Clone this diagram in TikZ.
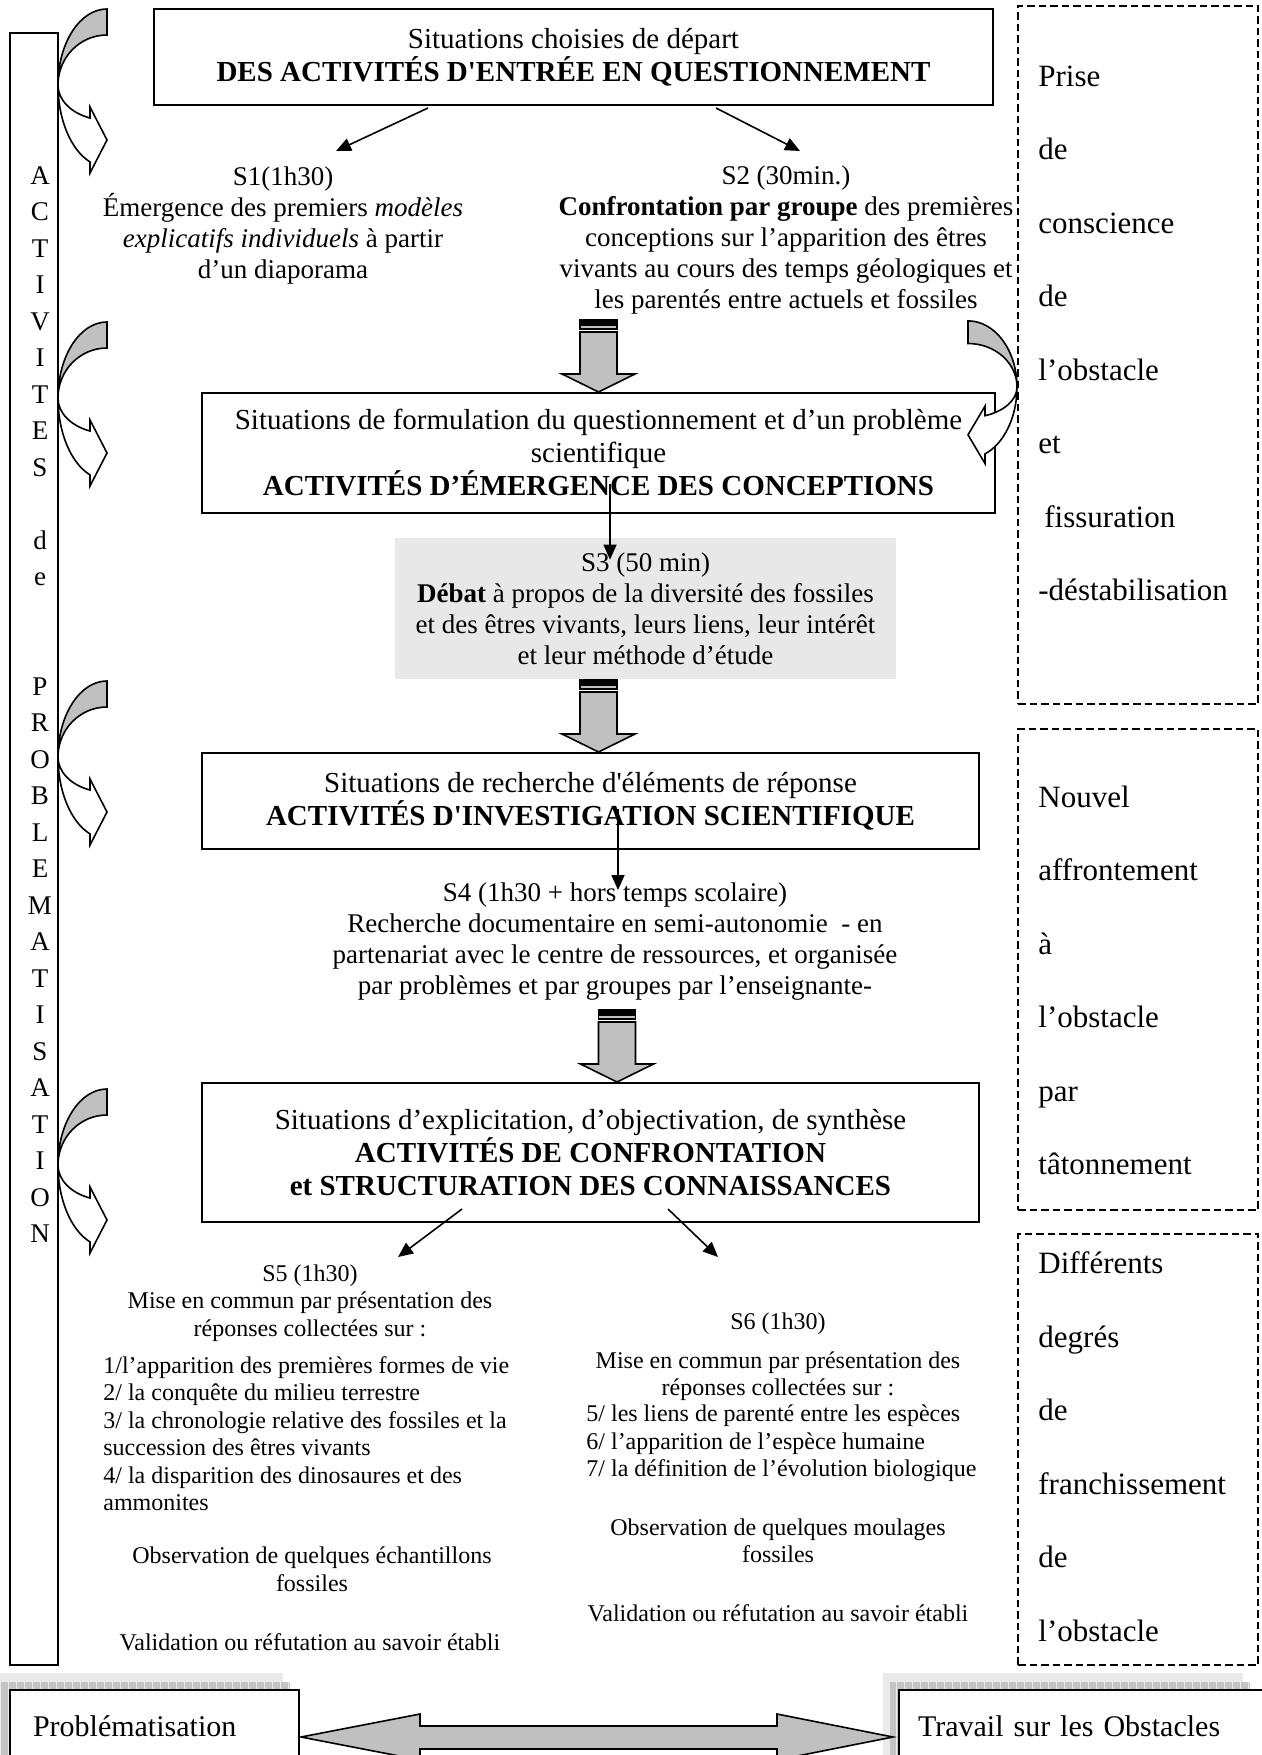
\documentclass[tikz,border=0pt]{standalone}
\usepackage{fontspec}
\setmainfont{Liberation Serif}
\usetikzlibrary{arrows.meta,calc}
\definecolor{ArrGray}{RGB}{192,192,192}
\definecolor{DebatGray}{RGB}{232,232,232}
\definecolor{ShadowGray}{RGB}{196,196,196}
\definecolor{ShadowLight}{RGB}{234,234,234}
\tikzset{
  pb/box/.style={draw, line width=1pt, fill=white, align=center, inner sep=0pt,
    font=\fontsize{14.5}{16.5}\selectfont},
  pb/side/.style={draw, line width=1pt, dash pattern=on 3.75pt off 2pt},
  pb/sidetxt/.style={align=left, anchor=west, inner sep=0pt,
    font=\fontsize{15.5}{36.75}\selectfont},
  pb/txt/.style={align=center, inner sep=0pt, font=\fontsize{13.5}{15.5}\selectfont},
  pb/small/.style={align=center, inner sep=0pt, font=\fontsize{12}{13.75}\selectfont},
  pb/letters/.style={align=center, inner sep=0pt, font=\fontsize{13.5}{18.25}\selectfont},
  pb/bottom/.style={draw, line width=1pt, fill=white, anchor=north west, align=left,
    inner ysep=0pt, minimum height=36pt, font=\fontsize{15}{17}\selectfont},
  pb/arrow/.style={-{Triangle[length=7.5pt,width=6.5pt]}, line width=0.8pt},
  pb/block/.style={fill=ArrGray, draw=black, line width=0.8pt},
  % curved arrow, centre of the arcs at the origin
  bendarrow/.pic={
    \filldraw[pb/block] (0,-76) arc[start angle=270, end angle=180, x radius=49, y radius=76]
      arc[start angle=180, end angle=270, x radius=49, y radius=50] -- cycle;
    \filldraw[fill=white, draw=black, line width=0.8pt] (-49,0)
      arc[start angle=180, end angle=110.3, x radius=49, y radius=82]
      -- (-17,88) -- (0,55) -- (-17,22) -- (-17,33)
      arc[start angle=110.3, end angle=180, x radius=49, y radius=35] -- cycle;
  },
  % striped block arrow, tip at the origin
  stripedarrow/.pic={
    \filldraw[fill=black, line width=0.6pt] (-18.5,-72) rectangle (18.5,-69);
    \filldraw[pb/block] (-18.5,-67) rectangle (18.5,-63);
    \filldraw[pb/block] (-18.5,-60) -- (-18.5,-18) -- (-36.5,-18) -- (0,0)
      -- (36.5,-18) -- (18.5,-18) -- (18.5,-60) -- cycle;
  }
}

\begin{document}
\begin{tikzpicture}[x=0.5pt,y=-0.5pt]
  \useasboundingbox (0,0) rectangle (1262,1755);
  \clip (0,0) rectangle (1262,1755);

  % left column
  \node[draw, line width=1pt, minimum width=24pt, minimum height=816pt] (bar) at (34,849) {};
  \node[pb/letters] (barlbl) at (40,704.5) {A\\C\\T\\I\\V\\I\\T\\E\\S\\\strut\\d\\e\\\strut\\\strut\\P\\R\\O\\B\\L\\E\\M\\A\\T\\I\\S\\A\\T\\I\\O\\N};
  \foreach \y in {85,398,757,1165}{\pic at (107,\y) {bendarrow};}

  % right column
  \node[pb/side, minimum width=120pt, minimum height=349pt] (obs1) at (1138,355) {};
  \node[pb/side, minimum width=120pt, minimum height=240.5pt] (obs2) at (1138,969.5) {};
  \node[pb/side, minimum width=120pt, minimum height=215.5pt] (obs3) at (1138,1449.5) {};
  \node[pb/sidetxt] (obs1txt) at (1038,333.5) {Prise\\de\\conscience\\de\\l’obstacle\\et\\\hspace{3pt}fissuration\\-déstabilisation};
  \node[pb/sidetxt] (obs2txt) at (1038,980.5) {Nouvel\\affrontement\\à\\l’obstacle\\par\\tâtonnement};
  \node[pb/sidetxt] (obs3txt) at (1038,1446.5) {Différents\\degrés\\de\\franchissement\\de\\l’obstacle};

  % main column
  \node[pb/box, minimum width=419.5pt, minimum height=48pt] (start) at (573.5,57) {Situations choisies de départ\\\textbf{DES ACTIVITÉS D\textquotesingle ENTRÉE EN QUESTIONNEMENT}};
  \node[pb/txt] (s1) at (283,225.5) {S1(1h30)\\Émergence des premiers \textit{modèles}\\\textit{explicatifs individuels} à partir\\d’un diaporama};
  \node[pb/txt] (s2) at (786,240.5) {S2 (30min.)\\\textbf{Confrontation par groupe} des premières\\conceptions sur l’apparition des êtres\\vivants au cours des temps géologiques et\\les parentés entre actuels et fossiles};
  \coordinate (s1in) at (336,151);
  \coordinate (s2in) at (800,151);
  \draw[pb/arrow] ($(start.south)+(-145.5,2)$) -- (s1in);
  \draw[pb/arrow] ($(start.south)+(142.5,2)$) -- (s2in);

  \node[pb/box, minimum width=396.5pt, minimum height=60pt] (form) at (598.5,453) {Situations de formulation du questionnement et d’un problème\\scientifique\\\textbf{ACTIVITÉS D’ÉMERGENCE DES CONCEPTIONS}};
  \pic at (form.north) {stripedarrow};
  \pic[xscale=-1, yscale=0.87] at (968,387) {bendarrow};

  \node[pb/txt, fill=DebatGray, minimum width=250.5pt, minimum height=70.5pt] (s3) at (645.5,608.5) {S3 (50 min)\\\textbf{Débat} à propos de la diversité des fossiles\\et des êtres vivants, leurs liens, leur intérêt\\et leur méthode d’étude};
  \draw[pb/arrow] ($(form.south)+(11.5,-30)$) -- ($(s3.north)+(-35.5,22)$);

  \node[pb/box, minimum width=388.5pt, minimum height=48pt] (rech) at (590.5,801) {Situations de recherche d\textquotesingle éléments de réponse\\\textbf{ACTIVITÉS D\textquotesingle INVESTIGATION SCIENTIFIQUE}};
  \pic at (form.north |- rech.north) {stripedarrow};

  \node[pb/txt] (s4) at (615,941.5) {S4 (1h30 + hors temps scolaire)\\Recherche documentaire en semi-autonomie~ - en\\partenariat avec le centre de ressources, et organisée\\par problèmes et par groupes par l’enseignante-};
  \draw[pb/arrow] ($(rech.south)+(27.5,-41)$) -- ($(rech.south)+(27.5,40)$);

  \node[pb/box, minimum width=388.5pt, minimum height=69.5pt] (conf) at (590.5,1152.5) {Situations d’explicitation, d’objectivation, de synthèse\\\textbf{ACTIVITÉS DE CONFRONTATION}\\\textbf{et STRUCTURATION DES CONNAISSANCES}};
  \pic at ($(conf.north)+(26.5,0)$) {stripedarrow};
  \draw[pb/arrow] ($(conf.south)+(-128.5,-14)$) -- ($(conf.south)+(-192.5,34)$);
  \draw[pb/arrow] ($(conf.south)+(77.5,-14)$) -- ($(conf.south)+(127.5,34)$);

  % S5
  \node[pb/small] (s5head) at (310,1303) {S5 (1h30)\\Mise en commun par présentation des\\réponses collectées sur :};
  \node[pb/small, align=left, anchor=west] (s5list) at (103,1433.5) {1/l’apparition des premières formes de vie\\2/ la conquête du milieu terrestre\\3/ la chronologie relative des fossiles et la\\succession des êtres vivants\\4/ la disparition des dinosaures et des\\ammonites};
  \node[pb/small] (s5obs) at (312,1569.5) {Observation de quelques échantillons\\fossiles};
  \node[pb/small] (s5val) at (310,1642) {Validation ou réfutation au savoir établi};

  % S6
  \node[pb/small] (s6title) at (778,1324) {S6 (1h30)};
  \node[pb/small] (s6head) at (778,1376) {Mise en commun par présentation des\\réponses collectées sur :};
  \node[pb/small, align=left, anchor=west] (s6list) at (586,1443.5) {5/ les liens de parenté entre les espèces\\6/ l’apparition de l’espèce humaine\\7/ la définition de l’évolution biologique};
  \node[pb/small] (s6obs) at (778,1541) {Observation de quelques moulages\\fossiles};
  \node[pb/small] (s6val) at (778,1613) {Validation ou réfutation au savoir établi};

  % bottom boxes with shadow
  \fill[ShadowLight] (0,1673) rectangle (283,1755);
  \fill[ShadowGray] (1,1682) rectangle (290,1755);
  \draw[gray!15, line width=0.3pt, step=8] (1,1682) grid (290,1755);
  \fill[ShadowLight] (883,1673) rectangle (1243,1755);
  \fill[ShadowGray] (890,1682) rectangle (1250,1755);
  \draw[gray!15, line width=0.3pt, step=8] (890,1682) grid (1250,1755);
  \node[pb/bottom, text width=121.5pt, inner xsep=11.5pt] (prob) at (9,1689) {Problématisation};
  \node[pb/bottom, text width=170.5pt, inner xsep=9.5pt] (trav) at (898,1689) {Travail sur les Obstacles};
  \draw[pb/block] ($(prob.east)+(1,11)$) -- ++(119,-23) -- ++(0,12)
    -- ($(trav.west)+(-121,0)$) -- ++(0,-12) -- ($(trav.west)+(-5,11)$)
    -- ($(trav.west)+(-121,34)$) -- ++(0,-11) -- ($(prob.east)+(120,23)$)
    -- ++(0,11) -- cycle;
\end{tikzpicture}
\end{document}
